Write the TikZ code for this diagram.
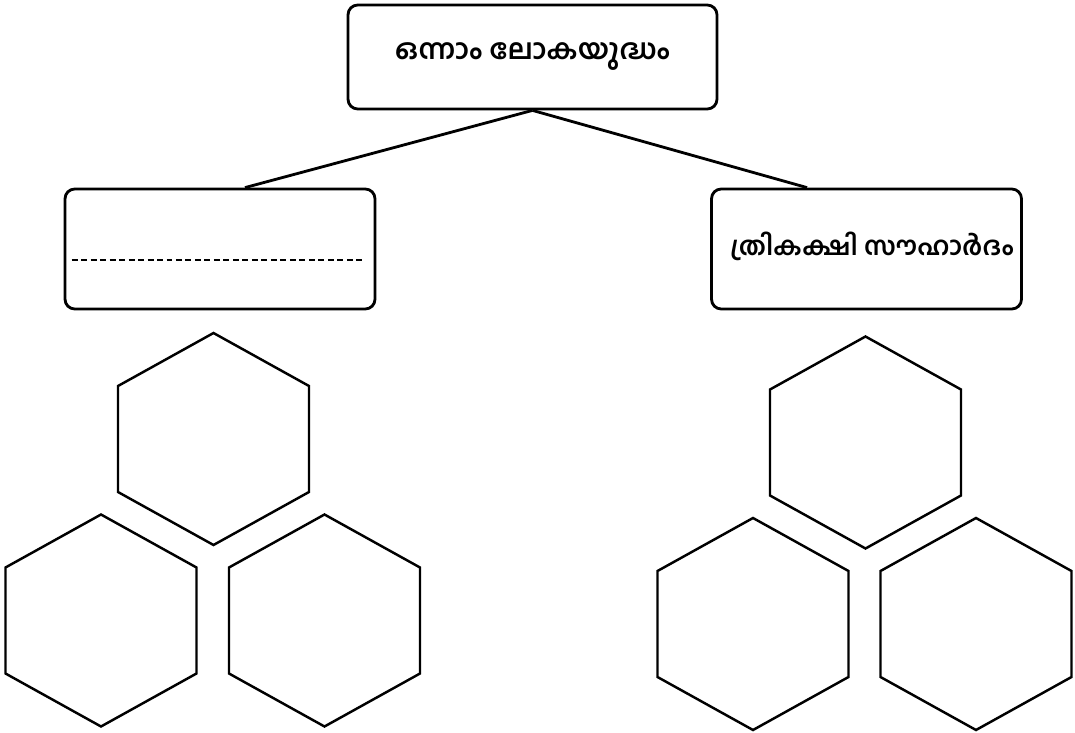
\documentclass[tikz,border=0pt]{standalone}
\usepackage{fontspec}
\usepackage{tikz}
\usetikzlibrary{calc}
\newfontfamily\mlfont[Script=Malayalam]{Hind Kochi}
\def\hexagon[#1](#2,#3){\draw[#1] (#2,#3-106) -- (#2+95.5,#3-53) -- (#2+95.5,#3+53) -- (#2,#3+106) -- (#2-95.5,#3+53) -- (#2-95.5,#3-53) -- cycle;}
\tikzset{
	topbox/.style={draw, line width=1.6pt, rounded corners=5.5pt, minimum width=7.38cm, minimum height=2.08cm, inner sep=0pt, font=\mlfont\bfseries\fontsize{16}{20}\selectfont},
	subbox/.style={draw, line width=1.6pt, rounded corners=5.5pt, minimum width=6.2cm, minimum height=2.4cm, inner sep=0pt},
	boxtext/.style={font=\mlfont\bfseries\fontsize{14.7}{18}\selectfont},
}

\begin{document}
\begin{tikzpicture}[x=0.02cm, y=-0.02cm]
			%%%%% START %%%%%
			\useasboundingbox (0, 0) rectangle (1075, 733);
			
			\node[topbox] (war) at (532.5, 57) {ഒന്നാം ലോകയുദ്ധം};
			\node[subbox] (blank) at (220, 249) {};
			\node[subbox] (triple) at (866.5, 249) {};
			\node[boxtext] (tripletext) at (872, 246) {ത്രികക്ഷി സൗഹാർദം};
			
			\draw[line width=1.6pt] (war.south) -- ($(blank.north)+(25, 0)$);
			\draw[line width=1.6pt] (war.south) -- ($(triple.north)+(-59.5, 0)$);
			
			\draw[line width=1pt, dash pattern=on 3.4pt off 2pt] ($(blank.west)+(8, 11)$) -- ($(blank.east)+(-12, 11)$);
			
			\hexagon[line width=1.4pt](213.5, 439)
			\hexagon[line width=1.4pt](101, 620.5)
			\hexagon[line width=1.4pt](324.5, 620.5)
			
			\hexagon[line width=1.4pt](865.5, 442.5)
			\hexagon[line width=1.4pt](753, 624)
			\hexagon[line width=1.4pt](976, 624)
			
			%%%%% END %%%%%
		\end{tikzpicture}
\end{document}
